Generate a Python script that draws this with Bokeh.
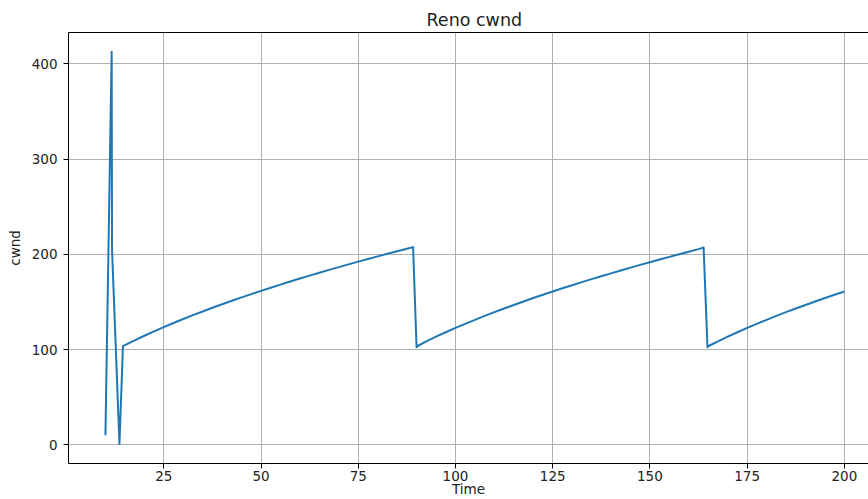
from bokeh.plotting import figure
from bokeh.models import Range1d, FixedTicker, LinearAxis
from bokeh.embed import file_html
from bokeh.resources import INLINE

# Reno congestion window trace: slow start, timeout, then three
# congestion-avoidance sawtooth cycles with fast-recovery drops.
time = [10, 11.6, 11.7, 13.6, 14.5,
        17.5, 20, 22.5, 25, 27.5, 30, 32.5, 35, 37.5, 40, 42.5, 45, 47.5, 50,
        52.5, 55, 57.5, 60, 62.5, 65, 67.5, 70, 72.5, 75, 77.5, 80, 82.5, 85,
        87.5, 89.1,
        90.0, 90.4,
        92.5, 95, 97.5, 100, 102.5, 105, 107.5, 110, 112.5, 115, 117.5, 120,
        122.5, 125, 127.5, 130, 132.5, 135, 137.5, 140, 142.5, 145, 147.5, 150,
        152.5, 155, 157.5, 160, 162.5, 163.8,
        164.8, 165.2,
        167.5, 170, 172.5, 175, 177.5, 180, 182.5, 185, 187.5, 190, 192.5, 195,
        197.5, 200]
cwnd = [10, 412.5, 204, 1, 103.5,
        109.6, 114.5, 119.1, 123.6, 127.9, 132.1, 136.1, 140.0, 143.9, 147.6,
        151.2, 154.8, 158.2, 161.6, 164.9, 168.2, 171.4, 174.5, 177.6, 180.6,
        183.6, 186.5, 189.4, 192.3, 195.1, 197.8, 200.6, 203.2, 205.9, 207.5,
        102.5, 104,
        108.6, 113.5, 118.2, 122.7, 127.0, 131.2, 135.3, 139.3, 143.1, 146.8,
        150.5, 154.1, 157.5, 160.9, 164.3, 167.5, 170.8, 173.9, 177.0, 180.0,
        183.0, 186.0, 188.9, 191.7, 194.5, 197.3, 200.0, 202.7, 205.4, 207.2,
        102.5, 104,
        108.6, 113.5, 118.2, 122.7, 127.0, 131.2, 135.3, 139.3, 143.1, 146.8,
        150.5, 154.1, 157.5, 160.9]

x_ticks = [25, 50, 75, 100, 125, 150, 175, 200]
y_ticks = [0, 100, 200, 300, 400]

FONT = "DejaVu Sans"
TEXT = "#222222"

p = figure(width=868, height=499,
           x_range=Range1d(0.5, 206.2), y_range=Range1d(-19.6, 432.8),
           output_backend="svg", toolbar_location=None,
           min_border_left=68, min_border_right=0,
           min_border_top=32, min_border_bottom=36)
p.outline_line_color = None
p.background_fill_color = "white"
p.border_fill_color = "white"

p.title.text = "Reno cwnd"
p.title.align = "left"
p.title.offset = 358
p.title.standoff = 5
p.title.text_font = FONT
p.title.text_font_size = "17.5px"
p.title.text_font_style = "normal"
p.title.text_color = TEXT

p.line(time, cwnd, line_color="#1f77b4", line_width=2, line_join="round")

for ax in (p.xaxis[0], p.yaxis[0]):
    ax.axis_line_color = "black"
    ax.axis_line_width = 1
    ax.major_tick_line_color = "black"
    ax.major_tick_out = 5
    ax.major_tick_in = 0
    ax.minor_tick_line_color = None
    ax.major_label_text_font = FONT
    ax.major_label_text_font_size = "13.5px"
    ax.major_label_text_color = TEXT
    ax.axis_label_text_font = FONT
    ax.axis_label_text_font_size = "13.5px"
    ax.axis_label_text_font_style = "normal"
    ax.axis_label_text_color = TEXT

p.xaxis[0].ticker = FixedTicker(ticks=x_ticks)
p.yaxis[0].ticker = FixedTicker(ticks=y_ticks)
p.xaxis[0].major_label_standoff = 2
p.yaxis[0].major_label_standoff = 6

p.xaxis[0].axis_label = "Time"
p.xaxis[0].axis_label_standoff = -3
p.yaxis[0].axis_label = "cwnd"
p.yaxis[0].axis_label_standoff = 6

# top frame line
top = LinearAxis(ticker=FixedTicker(ticks=[]), axis_line_color="black",
                 major_tick_line_color=None, minor_tick_line_color=None,
                 major_tick_out=0, major_tick_in=0, major_label_standoff=0,
                 major_label_text_font_size="0px")
p.add_layout(top, "above")

p.xgrid.ticker = FixedTicker(ticks=x_ticks)
p.ygrid.ticker = FixedTicker(ticks=y_ticks)
for g in (p.xgrid[0], p.ygrid[0]):
    g.grid_line_color = "#b0b0b0"
    g.grid_line_width = 1

open("out.html", "w").write(file_html(p, INLINE))
